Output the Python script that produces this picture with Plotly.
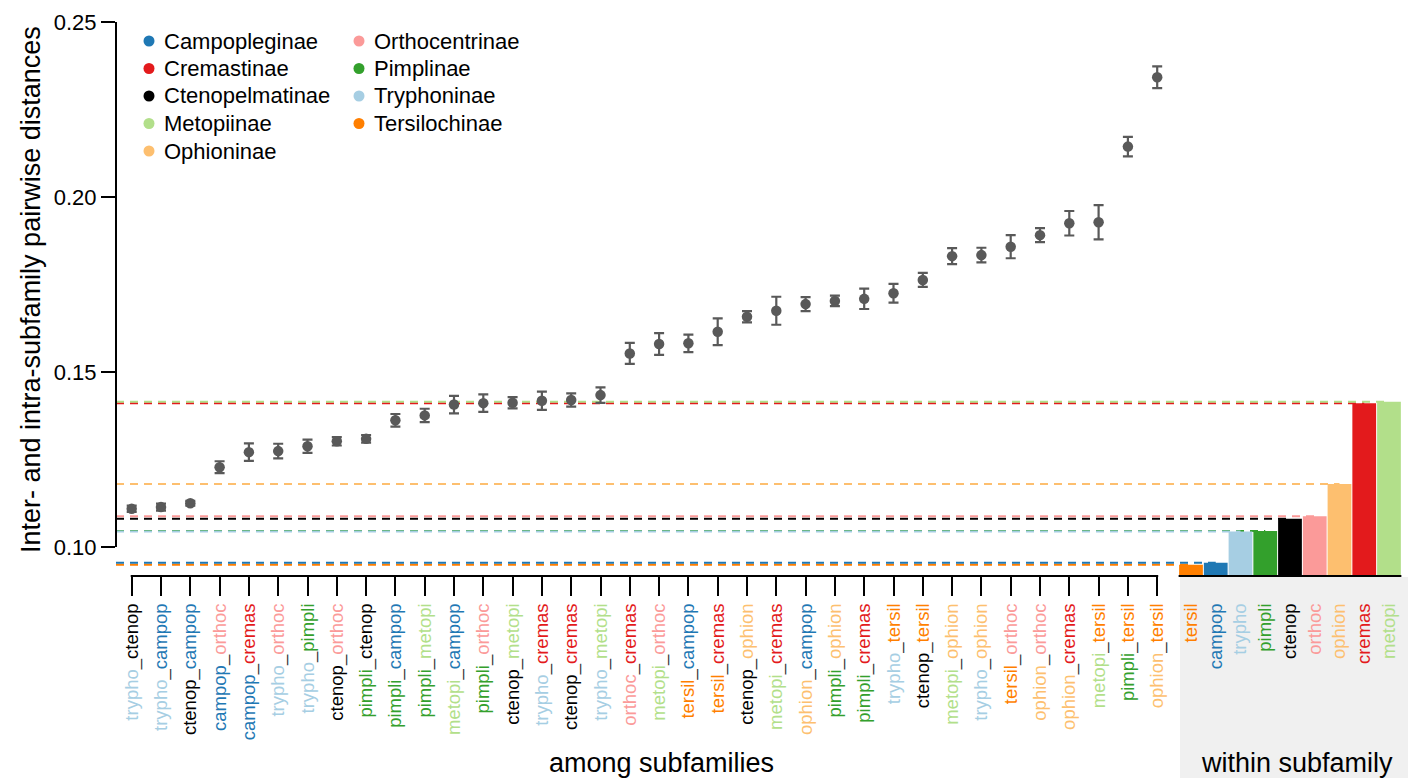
import plotly.graph_objects as go

# ---------------- data ----------------
colors = {
    "campop": "#1f78b4", "cremas": "#e31a1c", "ctenop": "#000000",
    "metopi": "#b2df8a", "ophion": "#fdbf6f", "orthoc": "#fb9a99",
    "pimpli": "#33a02c", "trypho": "#a6cee3", "tersil": "#ff7f00",
}
legend_names = ["Campopleginae", "Cremastinae", "Ctenopelmatinae", "Metopiinae", "Ophioninae",
                "Orthocentrinae", "Pimplinae", "Tryphoninae", "Tersilochinae"]
legend_keys = ["campop", "cremas", "ctenop", "metopi", "ophion",
               "orthoc", "pimpli", "trypho", "tersil"]

pairs = ["trypho_ctenop", "trypho_campop", "ctenop_campop", "campop_orthoc", "campop_cremas",
         "trypho_orthoc", "trypho_pimpli", "ctenop_orthoc", "pimpli_ctenop", "pimpli_campop",
         "pimpli_metopi", "metopi_campop", "pimpli_orthoc", "ctenop_metopi", "trypho_cremas",
         "ctenop_cremas", "trypho_metopi", "orthoc_cremas", "metopi_orthoc", "tersil_campop",
         "tersil_cremas", "ctenop_ophion", "metopi_cremas", "ophion_campop", "pimpli_ophion",
         "pimpli_cremas", "trypho_tersil", "ctenop_tersil", "metopi_ophion", "trypho_ophion",
         "tersil_orthoc", "ophion_orthoc", "ophion_cremas", "metopi_tersil", "pimpli_tersil",
         "ophion_tersil"]
means = [0.1109, 0.1114, 0.1125, 0.1228, 0.1271, 0.1274, 0.1288, 0.1302, 0.1309, 0.1362,
         0.1376, 0.1407, 0.1411, 0.1412, 0.1418, 0.1420, 0.1434, 0.1553, 0.1580, 0.1582,
         0.1615, 0.1658, 0.1675, 0.1694, 0.1703, 0.1709, 0.1725, 0.1763, 0.1831, 0.1834,
         0.1858, 0.1891, 0.1925, 0.1928, 0.2144, 0.2342]
errs = [0.0009, 0.0010, 0.0007, 0.0017, 0.0025, 0.0021, 0.0019, 0.0012, 0.0011, 0.0018,
        0.0019, 0.0025, 0.0025, 0.0016, 0.0026, 0.0019, 0.0022, 0.0030, 0.0031, 0.0025,
        0.0038, 0.0016, 0.0040, 0.0020, 0.0015, 0.0029, 0.0027, 0.0020, 0.0023, 0.0021,
        0.0033, 0.0020, 0.0035, 0.0049, 0.0028, 0.0031]

within_names = ["tersil", "campop", "trypho", "pimpli", "ctenop", "orthoc", "ophion", "cremas", "metopi"]
within_vals = [0.0949, 0.0955, 0.1044, 0.1046, 0.1081, 0.1088, 0.1180, 0.1411, 0.1415]

y_ticks = [0.10, 0.15, 0.20, 0.25]

# ---------------- layout constants ----------------
W, H = 1413, 778
ML, MR, MT, MB = 116, 5, 10, 203
PW = W - ML - MR
PH = H - MT - MB
FONT = "Liberation Sans, Arial, sans-serif"
UND = "#333333"

DOM1 = [0.0, (1170 - ML) / PW]
R1 = [-0.536, -0.536 + (1170 - ML) / 29.3]
DOM2 = [(1175 - ML) / PW, 1.0]
R2 = [-0.646, -0.646 + (W - MR - 1175) / 24.75]
YR = [0.092, 0.092 + PH / 3500.0]


def px_x(px):
    return (px - ML) / PW


def px_y(py):
    return (H - MB - py) / PH


def x1_paper(i):
    return DOM1[0] + (i - R1[0]) / (R1[1] - R1[0]) * (DOM1[1] - DOM1[0])


def x2_paper(i):
    return DOM2[0] + (i - R2[0]) / (R2[1] - R2[0]) * (DOM2[1] - DOM2[0])


def colored_pair(p):
    a, b = p.split("_")
    return (f"<span style='color:{colors[a]}'>{a}</span>"
            f"<span style='color:{UND}'>_</span>"
            f"<span style='color:{colors[b]}'>{b}</span>")


fig = go.Figure()

# among-subfamily means with error bars
fig.add_trace(go.Scatter(
    x=pairs, y=means, mode="markers",
    marker=dict(size=10.5, color="#595959"),
    error_y=dict(type="data", array=errs, visible=True, color="#595959", thickness=2.2, width=5),
    xaxis="x", yaxis="y", showlegend=False, cliponaxis=False, hoverinfo="x+y",
))

# within-subfamily bars
fig.add_trace(go.Bar(
    x=within_names, y=within_vals, width=0.96,
    marker=dict(color=[colors[n] for n in within_names], line=dict(width=0)),
    xaxis="x2", yaxis="y", showlegend=False,
))

shapes = []
# gray background under within-subfamily labels
shapes.append(dict(type="rect", xref="paper", yref="paper",
                   x0=px_x(1180), x1=px_x(1408), y0=px_y(577), y1=px_y(H),
                   fillcolor="#f0f0f0", line=dict(width=0), layer="below"))

# dashed reference lines (drawn in order so later ones sit on top)
order = ["tersil", "campop", "pimpli", "trypho", "ctenop", "orthoc", "ophion", "cremas", "metopi"]
for n in order:
    i = within_names.index(n)
    v = within_vals[i]
    shapes.append(dict(type="line", xref="paper", yref="y",
                       x0=0, x1=x2_paper(i), y0=v, y1=v,
                       line=dict(color=colors[n], width=2, dash="8px,6px"), layer="below"))

# y spine from 0.10 to 0.25
shapes.append(dict(type="line", xref="paper", yref="y", x0=0, x1=0, y0=y_ticks[0], y1=y_ticks[-1],
                   line=dict(color="black", width=2)))
# x axis lines
shapes.append(dict(type="line", xref="paper", yref="paper",
                   x0=x1_paper(0) - 1 / PW, x1=x1_paper(len(pairs) - 1) + 1 / PW,
                   y0=px_y(576), y1=px_y(576), line=dict(color="black", width=2)))
shapes.append(dict(type="line", xref="paper", yref="paper",
                   x0=x2_paper(-0.5), x1=x2_paper(len(within_names) - 0.5),
                   y0=px_y(576), y1=px_y(576), line=dict(color="black", width=2)))

# manual legend (two columns, column-major)
annotations = []
rows_y = [41, 68.5, 96, 123.5, 151]
cols = [(149, 162), (359, 372)]
for k, (name, key) in enumerate(zip(legend_names, legend_keys)):
    col = 0 if k < 5 else 1
    row = k if k < 5 else k - 5
    dx, tx = cols[col]
    yy = px_y(rows_y[row])
    shapes.append(dict(type="circle", xref="paper", yref="paper",
                       xsizemode="pixel", ysizemode="pixel",
                       xanchor=px_x(dx), yanchor=yy, x0=-5.5, x1=5.5, y0=-5.5, y1=5.5,
                       fillcolor=colors[key], line=dict(width=0)))
    annotations.append(dict(text=name, xref="paper", yref="paper", x=px_x(tx), y=yy,
                            xanchor="left", yanchor="middle", showarrow=False,
                            font=dict(family=FONT, size=22, color="black")))

# axis titles
annotations.append(dict(text="Inter- and intra-subfamily pairwise distances", xref="paper", yref="paper",
                        x=px_x(31), y=px_y(290), textangle=-90, showarrow=False,
                        xanchor="center", yanchor="middle",
                        font=dict(family=FONT, size=27, color="black")))
annotations.append(dict(text="among subfamilies", xref="paper", yref="paper",
                        x=px_x(661), y=px_y(763), showarrow=False, xanchor="center", yanchor="middle",
                        font=dict(family=FONT, size=27, color="black")))
annotations.append(dict(text="within subfamily", xref="paper", yref="paper",
                        x=px_x(1297), y=px_y(763), showarrow=False, xanchor="center", yanchor="middle",
                        font=dict(family=FONT, size=27, color="black")))

fig.update_layout(
    width=W, height=H,
    margin=dict(l=ML, r=MR, t=MT, b=MB),
    paper_bgcolor="white", plot_bgcolor="rgba(0,0,0,0)",
    font=dict(family=FONT, color="black"),
    showlegend=False,
    shapes=shapes, annotations=annotations,
    xaxis=dict(domain=DOM1, range=R1, type="category", categoryorder="array", categoryarray=pairs,
               tickmode="array", tickvals=pairs, ticktext=[colored_pair(p) for p in pairs],
               tickangle=-90, ticks="outside", ticklen=20, tickwidth=2, tickcolor="black",
               tickfont=dict(family=FONT, size=18.5), showgrid=False, zeroline=False, showline=False,
               anchor="y"),
    xaxis2=dict(domain=DOM2, range=R2, type="category", categoryorder="array", categoryarray=within_names,
                tickmode="array", tickvals=within_names,
                ticktext=[f"<span style='color:{colors[n]}'>{n}</span>" for n in within_names],
                tickangle=-90, ticks="outside", ticklen=20, tickwidth=2, tickcolor="rgba(0,0,0,0)",
                tickfont=dict(family=FONT, size=18.5), showgrid=False, zeroline=False, showline=False,
                anchor="y"),
    yaxis=dict(range=YR, tickmode="array", tickvals=y_ticks, ticktext=[f"{v:.2f}" for v in y_ticks],
               ticks="outside", ticklen=14, tickwidth=2, tickcolor="black",
               tickfont=dict(family=FONT, size=22), showgrid=False, zeroline=False, showline=False),
)

fig.write_html("out.html", config={"displayModeBar": False},
               post_script="document.body.style.margin='0';document.body.style.overflow='hidden';")
